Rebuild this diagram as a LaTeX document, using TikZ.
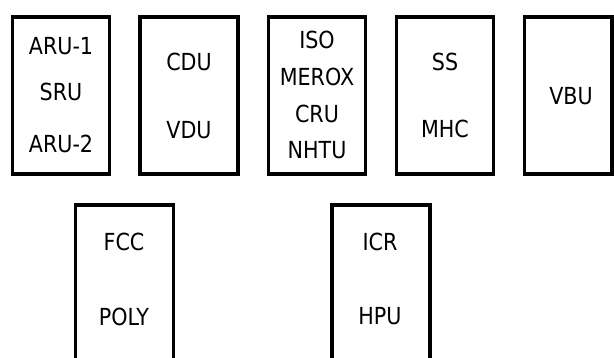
\documentclass[tikz,border=0pt]{standalone}
\usepackage{fontspec}
\setmainfont{DejaVu Sans}[FakeStretch=0.88]

\tikzset{
  unitbox/.style={draw, line width=3.2pt, inner sep=0pt,
    minimum width=97pt, minimum height=157pt},
  lowbox/.style={unitbox, minimum width=98pt, minimum height=170pt},
  lbl/.style={inner sep=0pt, font=\fontsize{23.5}{28}\selectfont}
}

\begin{document}
\begin{tikzpicture}[x=1pt,y=-1pt]
        \useasboundingbox (0,0) rectangle (614,358);
        % top row
        \node[unitbox] (aru) at (61,95.5) {};
        \node[unitbox, minimum width=98pt] (cdu) at (189,95.5) {};
        \node[unitbox] (iso) at (317,95.5) {};
        \node[unitbox] (ss) at (445,95.5) {};
        \node[unitbox, minimum width=87.5pt] (vbu) at (568.25,95.5) {};
        \node[lbl] (aru1) at (61,46) {ARU-1};
        \node[lbl] (sru) at (61,91.5) {SRU};
        \node[lbl] (aru2) at (61,144) {ARU-2};
        \node[lbl] (cdut) at (189,62) {CDU};
        \node[lbl] (vdut) at (189,130) {VDU};
        \node[lbl] (isot) at (317,39.5) {ISO};
        \node[lbl] (merox) at (317,76.5) {MEROX};
        \node[lbl] (cru) at (317,113.5) {CRU};
        \node[lbl] (nhtu) at (317,150.5) {NHTU};
        \node[lbl] (sst) at (445,61.5) {SS};
        \node[lbl] (mhc) at (445,129) {MHC};
        \node[lbl] (vbut) at (571,96.5) {VBU};
        % bottom row
        \node[lowbox] (fcc) at (124.75,290) {};
        \node[lowbox] (icr) at (381,290) {};
        \node[lbl] (fcct) at (124,241.5) {FCC};
        \node[lbl] (poly) at (124,316.5) {POLY};
        \node[lbl] (icrt) at (380,241.5) {ICR};
        \node[lbl] (hpu) at (380,316.5) {HPU};
\end{tikzpicture}
\end{document}
